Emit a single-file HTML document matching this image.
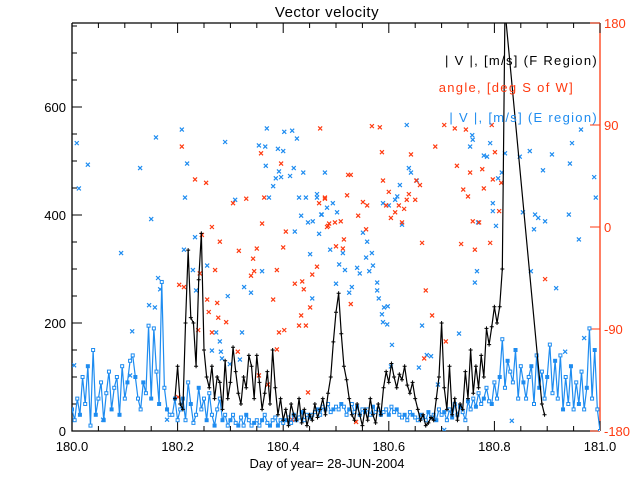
<!DOCTYPE html>
<html><head><meta charset="utf-8"><style>
html,body{margin:0;padding:0;background:#fff;}
svg{display:block;font-family:"Liberation Sans",sans-serif;}
</style></head><body>
<svg id="chart" width="640" height="480" viewBox="0 0 640 480" xmlns="http://www.w3.org/2000/svg">
<defs><clipPath id="plotclip"><rect x="72" y="23" width="528" height="408"/></clipPath></defs>
<rect x="0" y="0" width="640" height="480" fill="#fff"/>
<text x="327" y="17" font-size="15" text-anchor="middle" fill="#000" letter-spacing="0.5">Vector velocity</text>
<text x="327" y="468" font-size="13" text-anchor="middle" fill="#000">Day of year= 28-JUN-2004</text>
<g id="axes"></g>
<g id="series" clip-path="url(#plotclip)"></g>
<g font-size="13" letter-spacing="1.3">
<text x="598" y="65" text-anchor="end" fill="#000">| V |, [m/s] (F Region)</text>
<text x="574" y="92" text-anchor="end" fill="#ff3a10">angle, [deg S of W]</text>
<text x="598" y="122" text-anchor="end" fill="#1e8cf0">| V |, [m/s] (E region)</text>
</g>
</svg>
<script>
// ---- data ----
const xTickLabels = ["180.0","180.2","180.4","180.6","180.8","181.0"];
const xTickValues = [180.0,180.2,180.4,180.6,180.8,181.0];
const yLeftTicks = [0,200,400,600];
const yRightTicks = [180,90,0,-90,-180];

const eStart = 180.0, eStep = 0.005;
const eValues = [40,20,60,30,100,50,120,10,150,30,60,
90,20,70,110,40,80,100,30,120,60,
90,130,140,100,60,40,90,70,195,60,
190,110,50,276,80,40,30,30,60,20,
40,60,20,90,50,15,30,80,40,60,
20,70,30,10,40,60,20,30,10,20,
30,15,10,25,10,30,20,10,15,20,
10,20,30,15,10,20,25,10,20,15,
20,25,15,30,20,25,35,20,30,25,
30,35,40,30,45,40,50,35,40,45,
40,50,45,30,40,50,35,45,30,40,
35,40,30,45,35,40,30,35,40,30,
45,35,40,30,25,30,20,35,30,25,
20,30,25,20,35,25,30,20,40,30,
35,20,40,25,50,30,45,35,20,55,
40,60,45,70,50,60,80,55,50,90,
60,100,170,80,130,110,90,150,60,120,
90,60,100,120,50,140,80,110,60,100,
160,70,130,60,140,40,100,50,120,40,
90,50,110,40,80,190,60,150,40,0];

const fStart = 180.195, fStep = 0.005;
const fValues = [60,120,50,40,200,335,210,200,120,280,
366,150,100,80,120,60,100,90,40,130,
60,90,155,110,70,50,100,80,140,120,
60,140,90,40,70,110,50,150,80,30,
60,20,40,10,50,30,20,60,15,40,
10,30,20,50,25,40,60,30,70,100,
165,220,255,180,120,95,60,30,20,50,
30,10,40,20,60,30,15,50,30,80,
110,90,125,100,80,105,95,120,85,70,
90,60,40,20,30,10,15,25,20,60,
100,200,80,40,120,30,60,20,50,40,
110,60,150,70,120,80,140,100,190,160,
193,230,200,230,300,780,
null,null,null,null,null,null,null,null,null,null,null,null,null,50,30];

const redDays = [180.208,180.233,180.254,180.265,180.246,180.280,180.316,180.305,180.330,180.358,180.396,180.364,180.360,180.405,180.400,180.350,180.343,180.345,180.339,180.271,180.242,180.203,180.212,180.388,180.422,180.436,180.439,180.455,180.464,180.479,180.468,180.485,180.256,180.275,180.259,180.277,180.292,180.239,180.265,180.381,180.434,180.430,180.443,180.451,180.392,180.402,180.388,180.314,180.354,180.371,180.447,180.417,180.201,
180.568,180.583,180.470,180.587,180.642,180.589,180.688,180.705,180.725,180.746,180.795,180.729,180.754,180.777,180.801,180.797,180.813,180.780,180.741,180.750,180.659,180.652,180.650,180.638,180.634,180.629,180.619,180.612,180.600,180.595,180.604,180.625,180.559,180.551,180.542,180.521,180.509,180.498,180.487,180.483,180.479,180.528,180.523,180.557,180.515,180.513,180.500,180.663,180.737,180.763,180.792,180.759,180.771,180.809,180.896,180.670,180.528,180.682,180.708,180.667,180.538];
const redAngles = [71,42,39,0,-7,-13,-21,21,25,65,56,26,3,-4,-18,-19,-28,-39,-43,-38,-41,-51,-53,-38,-50,-48,-55,-42,-35,25,21,1,-64,-67,-75,-80,-84,-91,-93,-64,-78,-87,-87,-71,-93,-91,-108,-110,-131,-139,-146,-170,-150,
89,88,87,66,64,41,71,90,87,86,90,54,48,51,66,42,39,34,33,27,37,41,24,29,24,16,19,13,31,19,8,4,19,22,10,28,5,4,3,0,26,46,46,-2,-11,-19,-17,-14,-15,-20,-14,5,4,14,-46,-56,-68,-78,-101,-116,-172];

const blueDays = [180.009,180.013,180.030,180.004,180.129,180.159,180.150,180.093,180.163,180.167,180.146,180.157,180.114,180.110,180.059,180.208,180.218,180.214,180.212,180.233,180.229,180.235,180.256,180.290,180.309,180.295,180.326,180.339,180.322,180.273,180.280,180.369,180.354,180.366,180.390,180.400,180.402,180.417,180.426,180.367,180.392,180.396,180.386,180.381,180.420,180.413,180.438,180.373,180.430,180.443,180.464,180.464,180.434,180.422,180.447,180.456,180.472,180.451,180.468,180.360,180.455,180.265,180.282,180.299,180.284,180.318,180.479,180.180,
180.634,180.638,180.642,180.653,180.621,180.616,180.612,180.600,180.589,180.494,180.483,180.473,180.502,180.625,180.551,180.559,180.489,180.513,180.568,180.557,180.506,180.517,180.540,180.545,180.563,180.570,180.500,180.530,180.525,180.578,180.578,180.581,180.598,180.591,180.587,180.589,180.597,180.663,180.733,180.672,180.680,180.657,180.606,180.604,180.693,180.705,180.758,180.759,180.754,180.780,180.786,180.792,180.820,180.814,180.807,180.797,180.797,180.803,180.769,180.767,180.763,180.848,180.867,180.892,180.909,180.947,180.943,180.964,180.989,180.992,180.854,180.877,180.883,180.896,180.941,180.875,180.960,180.869,180.917,180.934,180.970,180.833];
const blueAngles = [74,34,55,-122,52,79,7,-23,-45,-55,-69,-71,-92,-131,-170,86,56,26,-20,-9,-38,-56,-34,75,24,-61,-53,-58,-93,-93,-101,87,72,71,69,67,84,85,78,54,49,44,43,36,52,45,48,26,26,26,26,29,10,-4,4,5,11,-24,-6,-39,-63,-109,-110,-121,-116,-117,48,-170,
90,52,48,41,37,27,24,19,21,21,17,11,13,2,-5,-13,-20,-23,-23,-27,-33,-38,-36,-41,-39,-34,-50,-53,-58,-49,-56,-63,-70,-71,-77,-84,-86,-87,-94,-113,-114,-124,-104,-123,-139,-179,81,77,71,63,62,74,65,48,43,21,14,1,4,-39,-49,62,67,50,64,74,56,86,44,26,13,11,8,5,11,-2,-11,-39,-54,-110,-98,-171];

// ---- scales ----
const X0=72, X1=600, Y0=431, Y1=23;
const xs = d => X0 + (d-180)*(X1-X0);
const yl = v => Y0 - v*0.54;
const yr = a => Y0 - (a+180)*(Y0-Y1)/360;
const NS="http://www.w3.org/2000/svg";
function mk(tag, attrs, parent){const e=document.createElementNS(NS,tag);for(const k in attrs)e.setAttribute(k,attrs[k]);parent.appendChild(e);return e;}
const RED="#ff3a10", BLUE="#1e8cf0";
const axes=document.getElementById('axes'), series=document.getElementById('series');

let a=mk('path',{d:`M${X0},${Y1}H${X1}M${X0},${Y1}V${Y0}H${X1}`,stroke:"#000",fill:"none","stroke-width":1.3},axes);


let ra=mk('line',{x1:X1,y1:Y1,x2:X1,y2:Y0,stroke:RED,"stroke-width":1.3},axes);


for(let i=0;i<=20;i++){const d=180+i*0.05;const x=xs(d);const L=(i%4===0)?10:5;
 mk('line',{x1:x,y1:Y0,x2:x,y2:Y0-L,stroke:"#000"},axes);
 mk('line',{x1:x,y1:Y1,x2:x,y2:Y1+L,stroke:"#000"},axes);}
xTickValues.forEach((d,i)=>{const t=mk('text',{x:xs(d),y:451,"font-size":13,"text-anchor":"middle",fill:"#000"},axes);t.textContent=xTickLabels[i];
 
 });
for(let v=0;v<=750;v+=50){const y=yl(v);const L=(v%200===0)?10:5;mk('line',{x1:X0,y1:y,x2:X0+L,y2:y,stroke:"#000"},axes);}
yLeftTicks.forEach(v=>{const t=mk('text',{x:66,y:yl(v)+5,"font-size":13,"text-anchor":"end",fill:"#000"},axes);t.textContent=String(v);
 
 });
yRightTicks.forEach(v=>{const y=yr(v);mk('line',{x1:X1,y1:y,x2:X1-10,y2:y,stroke:RED},axes);
 const t=mk('text',{x:604,y:y+5,"font-size":13,fill:RED},axes);t.textContent=String(v);
 
 });

function xmark(x,y,c,name){const g=mk('path',{d:`M${x-2},${y-2}L${x+2},${y+2}M${x-2},${y+2}L${x+2},${y-2}`,stroke:c,"stroke-width":1.2,fill:"none"},series);
 
 }
blueDays.forEach((d,i)=>xmark(xs(d),yr(blueAngles[i]),BLUE,'e-region-angle-point'));
redDays.forEach((d,i)=>xmark(xs(d),yr(redAngles[i]),RED,'f-region-angle-point'));

let ep=[];eValues.forEach((v,i)=>{if(v!==null)ep.push([xs(eStart+i*eStep),yl(v)]);});
let el=mk('polyline',{points:ep.map(p=>p.join(',')).join(' '),stroke:BLUE,fill:"none","stroke-width":1.2},series);


ep.forEach((p,i)=>{const r=mk('rect',{x:p[0]-1.5,y:p[1]-1.5,width:3,height:3,fill:(i%3===0)?BLUE:"#fff",stroke:BLUE,"stroke-width":1},series);
 
 });

let fp=[];fValues.forEach((v,i)=>{if(v!==null)fp.push([xs(fStart+i*fStep),yl(v)]);});
let fl=mk('polyline',{points:fp.map(p=>p.join(',')).join(' '),stroke:"#000",fill:"none","stroke-width":1.2},series);


fp.forEach(p=>{const g=mk('path',{d:`M${p[0]-2},${p[1]}H${p[0]+2}M${p[0]},${p[1]-2}V${p[1]+2}`,stroke:"#000","stroke-width":1},series);
 
 });
</script>
</body></html>
